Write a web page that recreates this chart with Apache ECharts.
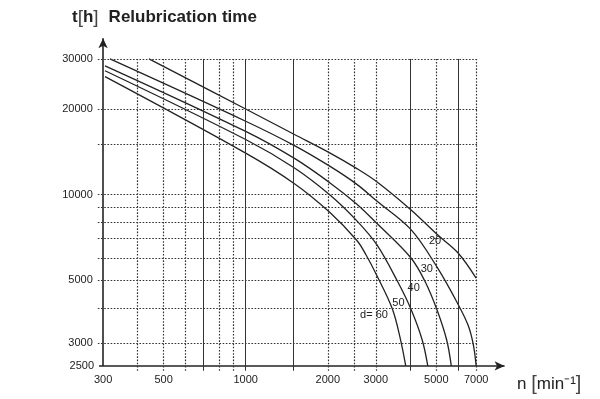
<!DOCTYPE html>
<html>
<head>
<meta charset="utf-8">
<script src="https://cdn.jsdelivr.net/npm/echarts@6/dist/echarts.min.js"></script>
<style>
  html, body { margin: 0; padding: 0; background: #fff; }
  #chart { width: 600px; height: 399px; }
</style>
</head>
<body>
<div id="chart"></div>
<script>
// relubrication time t [h] over speed n [min^-1], one curve per bore d
const d20 = [[442, 30000], [1000, 20000], [1510, 16280], [2033, 14030], [2558, 12350], [3026, 11100], [4032, 8850], [5040, 7240], [6000, 6250], [7000, 5090]];
const d30 = [[318, 30000], [1000, 18120], [1510, 14875], [2033, 12595], [2558, 10870], [3026, 9500], [4032, 7550], [5040, 5550], [6000, 4130], [6553, 3460], [6848, 2944], [7000, 2500]];
const d40 = [[305, 28380], [1000, 16690], [1510, 13410], [2033, 11020], [2558, 9260], [3026, 7930], [4032, 6000], [4544, 4960], [5040, 3915], [5456, 3090], [5676, 2500]];
const d50 = [[305, 27270], [1000, 15630], [1510, 12410], [2033, 9990], [2558, 8090], [3026, 6670], [3603, 4960], [4032, 3970], [4437, 3090], [4654, 2500]];
const d60 = [[305, 26000], [1000, 14000], [1510, 10930], [2033, 8670], [2558, 6900], [2761, 6150], [3026, 5200], [3449, 3970], [3698, 3090], [3863, 2500]];

const curveNames = ['20', '30', '40', '50', 'd= 60'];
// where each curve name sits (n, t)
const nameAt = [[4950, 6850], [4615, 5500], [4130, 4690], [3634, 4160], [2955, 3776]];

const xTicks = [300, 500, 1000, 2000, 3000, 5000, 7000];
const yTicks = [2500, 3000, 5000, 10000, 20000, 30000];
const xGrid = [400, 500, 600, 700, 800, 900, 1000, 1500, 2000, 2500, 3000, 4000, 5000, 6000, 7000];
const yGrid = [3000, 4000, 5000, 6000, 7000, 8000, 9000, 10000, 15000, 20000, 30000];

const FONT = '"Liberation Sans", Arial, sans-serif';
const INK = '#222';
const solidX = new Set([700, 1000, 1500, 4000, 6000]);

const dotStyle = { type: [1.6, 1.6], color: '#333', width: 1.2 };
const solidStyle = { type: 'solid', color: '#333', width: 1 };
const axisStyle = { type: 'solid', color: INK, width: 1.6 };

function tickLabel(text, dist) {
    return { show: true, position: 'start', distance: dist, formatter: text,
        color: INK, fontSize: 11, fontFamily: FONT };
}

const xMin = 285, xMax = 9000, yMin = 2400, yMax = 36000;
const x0 = xTicks[0], y0 = yTicks[0];
const xRight = Math.max(...xGrid), yTop = Math.max(...yGrid);

const lines = [];
// y axis and x axis with arrows
lines.push([
    { coord: [x0, y0], symbol: 'none', lineStyle: axisStyle, label: tickLabel(String(x0), 9) },
    { coord: [x0, 35500], symbol: 'arrow', symbolSize: [7, 10] }
]);
lines.push([
    { coord: [290, y0], symbol: 'none', lineStyle: axisStyle, label: tickLabel(String(y0), 5) },
    { coord: [8900, y0], symbol: 'arrow', symbolSize: [7, 10] }
]);
xGrid.forEach(v => {
    lines.push([
        { coord: [v, 2405], lineStyle: solidX.has(v) ? solidStyle : dotStyle,
          label: xTicks.includes(v) ? tickLabel(String(v), 4) : { show: false } },
        { coord: [v, yTop] }
    ]);
});
yGrid.forEach(v => {
    lines.push([
        { coord: [287, v], lineStyle: dotStyle,
          label: yTicks.includes(v) ? tickLabel(String(v), 5) : { show: false } },
        { coord: [xRight + 50, v] }
    ]);
});

const gridSeries = {
    type: 'line',
    data: [],
    silent: true,
    markLine: {
        silent: true,
        animation: false,
        symbol: 'none',
        label: { show: false },
        data: lines
    }
};

const curveSeries = [d20, d30, d40, d50, d60].map((pts, i) => ({
    type: 'line',
    name: curveNames[i],
    data: pts,
    symbol: 'none',
    smooth: 0.35,
    lineStyle: { color: INK, width: 1.3 },
    markPoint: {
        symbol: 'circle',
        symbolSize: 1,
        itemStyle: { color: 'rgba(0,0,0,0)' },
        label: { show: true, position: 'inside', formatter: curveNames[i],
            color: INK, fontSize: 11, fontFamily: FONT },
        data: [{ coord: nameAt[i] }]
    }
}));

const chart = echarts.init(document.getElementById('chart'), null, { width: 600, height: 399 });

const option = {
    animation: false,
    backgroundColor: '#fff',
    title: [
        {
            text: '{b|t}{br|[}{b|h}{br|]}  {b|Relubrication time}',
            left: 67, top: 3,
            textStyle: {
                rich: {
                    b: { fontSize: 17, fontWeight: 'bold', color: INK, fontFamily: FONT },
                    br: { fontSize: 19, fontWeight: 'normal', color: '#444', fontFamily: FONT }
                }
            }
        },
        {
            text: 'n {br|[}min\u207B\u00B9{br|]}',
            left: 512, top: 369,
            textStyle: {
                fontSize: 17, fontWeight: 'normal', color: INK, fontFamily: FONT,
                rich: { br: { fontSize: 20, color: '#444', fontFamily: FONT } }
            }
        }
    ],
    grid: { left: 97, right: 94.1, top: 36.4, bottom: 28 },
    xAxis: {
        type: 'log', min: xMin, max: xMax,
        axisLine: { show: false }, axisTick: { show: false },
        axisLabel: { show: false }, splitLine: { show: false }
    },
    yAxis: {
        type: 'log', min: yMin, max: yMax,
        axisLine: { show: false }, axisTick: { show: false },
        axisLabel: { show: false }, splitLine: { show: false }
    },
    series: [gridSeries, ...curveSeries]
};

chart.setOption(option);
</script>
</body>
</html>
